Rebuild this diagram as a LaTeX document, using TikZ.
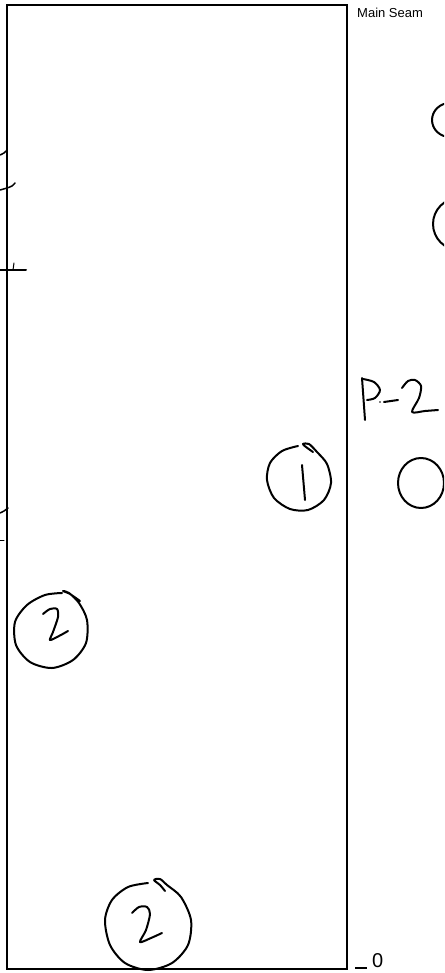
\documentclass[tikz,border=0pt]{standalone}
\usepackage{fontspec}
\setmainfont{Liberation Sans}
\begin{document}
\begin{tikzpicture}[x=1pt,y=-1pt,
  hand/.style={line width=2pt, line cap=round, line join=round},
  frame/.style={line width=1.8pt},
  lbl/.style={anchor=base west, inner sep=0pt}]
\clip (0,0) rectangle (444,973);
\fill[white] (0,0) rectangle (444,973);
% main frame
\draw[frame] (7,5) rectangle (347,969);
% labels
\node[lbl, font=\fontsize{13}{15}\selectfont] (ms) at (357,18) {Main Seam};
\node[lbl, font=\fontsize{20}{22}\selectfont] (zero) at (372,967) {0};
\coordinate (t1) at (355,968);
\coordinate (t2) at (367,968);
\draw[line width=1.2pt] (t1) -- (t2);
% left ticks
\draw[hand, line width=1.5pt] plot[smooth] coordinates {(0,155) (4,153) (7,150)};
\draw[hand, line width=1.5pt] plot[smooth] coordinates {(0,190) (7,188) (12,186) (15,183)};
\draw[hand] (0,270) -- (26,270);
\draw[hand, line width=1pt] (13,270) -- (14,263);
\draw[hand, line width=1.5pt] plot[smooth] coordinates {(0,513) (4,511) (8,508)};
\draw[hand, line width=1pt] (0,540) -- (4,540);
% right partial circles
\draw[hand] (450,120) ellipse[x radius=18, y radius=17];
\draw[hand] (459,224) ellipse[x radius=26, y radius=26];
% circle 1
\draw[hand] plot[smooth] coordinates {(298,446) (282,451) (270,463) (267,480) (274,498) (290,509) (308,510) (324,500) (331,483) (327,464) (317,452) (309,444) (303,444) (306,447) (313,452)};
\draw[hand] (302,465) -- (305,500);
% P-2
\draw[hand] (362,378) -- (365,420);
\draw[hand] plot[smooth] coordinates {(363,379) (374,382) (380,390) (375,398) (367,400)};
\fill (380,402) circle (0.8);
\draw[hand] (384,402) -- (398,400);
\draw[hand] plot[smooth] coordinates {(402,388) (408,381) (415,380) (421,386) (419,398) (412,412) (425,411) (438,410)};
% empty circle
\draw[hand] (421,483) ellipse[x radius=23, y radius=25];
% circle 2 left
\draw[hand] plot[smooth] coordinates {(62,593) (45,595) (27,605) (15,622) (16,645) (30,662) (52,668) (73,660) (86,643) (87,620) (79,603) (69,593) (63,591) (70,594) (80,601)};
\draw[hand] plot[smooth] coordinates {(43,614) (50,609) (57,609) (58,617) (53,632) (50,640) (59,636) (68,631)};
% circle 2 bottom
\draw[hand] plot[smooth] coordinates {(148,883) (128,887) (112,900) (105,920) (110,945) (125,963) (148,970) (172,963) (188,945) (191,920) (181,897) (167,885) (160,879) (154,880) (160,885) (165,891)};
\draw[hand] plot[smooth] coordinates {(132,913) (139,907) (147,907) (150,914) (146,930) (140,942) (151,938) (162,933)};
\end{tikzpicture}
\end{document}
